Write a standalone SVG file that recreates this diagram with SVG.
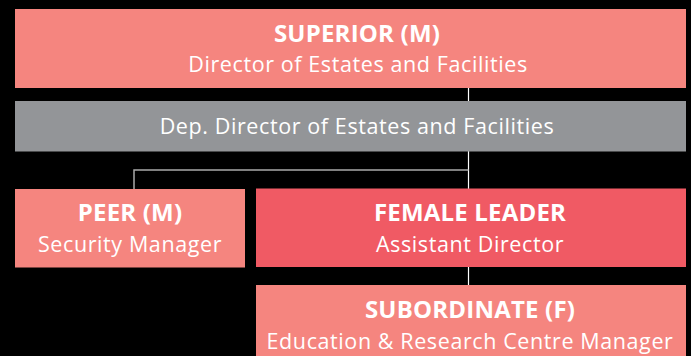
<svg xmlns="http://www.w3.org/2000/svg" width="691" height="356" viewBox="0 0 691 356">
<style>
.box{fill:#F5857F}
.lead{fill:#F05A64}
.gray{fill:#939598}
.t{font-family:"Open Sans","Noto Sans",sans-serif;fill:#fff;text-anchor:middle}
.b{font-weight:bold;font-size:24px;letter-spacing:0.2px}
.s{font-size:21.5px;letter-spacing:0.6px}
.c{stroke:#fff;stroke-width:1.2;fill:none}
.cg{stroke:#aaa;stroke-width:1.5;fill:none}
</style>
<rect width="691" height="356" fill="#000"/>
<g id="connectors">
<line class="c" x1="468.5" y1="88" x2="468.5" y2="101"/>
<line class="c" x1="468.5" y1="151" x2="468.5" y2="189"/>
<polyline class="cg" points="468.5,170 134,170 134,189"/>
<line class="c" x1="468.5" y1="267" x2="468.5" y2="285"/>
</g>
<g id="superior">
<rect class="box" x="15" y="9" width="671" height="79"/>
<text class="t b" x="357" y="42">SUPERIOR (M)</text>
<text class="t s" x="358" y="72">Director of Estates and Facilities</text>
</g>
<g id="deputy">
<rect class="gray" x="15" y="101" width="671" height="50.5"/>
<text class="t s" x="357" y="134">Dep. Director of Estates and Facilities</text>
</g>
<g id="peer">
<rect class="box" x="15" y="189" width="230" height="78.5"/>
<text class="t b" x="130" y="221">PEER (M)</text>
<text class="t s" x="130" y="252">Security Manager</text>
</g>
<g id="leader">
<rect class="lead" x="256" y="188.5" width="430" height="78.5"/>
<text class="t b" x="470" y="221">FEMALE LEADER</text>
<text class="t s" x="470" y="252">Assistant Director</text>
</g>
<g id="subordinate">
<rect class="box" x="256" y="285" width="430" height="71"/>
<text class="t b" x="470" y="318">SUBORDINATE (F)</text>
<text class="t s" x="470" y="349">Education &amp; Research Centre Manager</text>
</g>
</svg>
